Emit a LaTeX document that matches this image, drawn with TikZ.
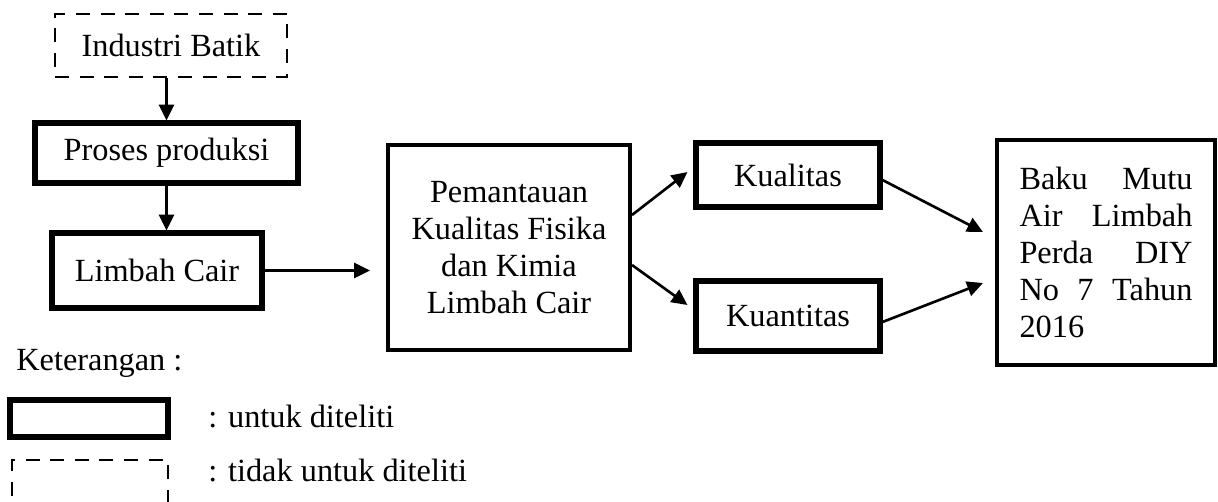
\documentclass[tikz,border=0pt]{standalone}
\usepackage{fontspec}
\setmainfont{Liberation Serif}
\usepackage{tikz}
\usetikzlibrary{arrows.meta, positioning, calc}
\tikzset{
    % Box styles with sharp corners
    component/.style={
        rectangle,
        draw=black,
        fill=white,
        line width=2.9pt,
        align=center,
        inner sep=0pt
    },
    component dashed/.style={
        component,
        line width=1.5pt,
        dash pattern=on 8pt off 6pt
    },
    component thin/.style={
        component,
        line width=2.3pt
    },
    arrow style/.style={
        -{Triangle[length=9pt, width=8.5pt]},
        line width=1.5pt,
        black
    }
}

\begin{document}
\begin{tikzpicture}[x=0.02cm, y=-0.02cm, font=\fontsize{18.4}{21}\selectfont]
        \clip (0,0) rectangle (1218,501);

        % Left column
        \node[component dashed, minimum width=4.64cm, minimum height=1.26cm] (ind) at (171, 45.5) {Industri Batik};
        \node[component, minimum width=5.26cm, minimum height=1.2cm] (proses) at (166.5, 153) {Proses produksi};
        \node[component, minimum width=4.2cm, minimum height=1.5cm] (limbah) at (157, 270.5) {Limbah Cair};

        % Monitoring
        \node[component thin, minimum width=4.84cm, minimum height=4.1cm] (pantau) at (509, 247.5) {
            Pemantauan\\
            Kualitas Fisika\\
            dan Kimia\\
            Limbah Cair
        };

        \node[component, minimum width=3.68cm, minimum height=1.28cm] (kual) at (788, 175) {Kualitas};
        \node[component, minimum width=3.68cm, minimum height=1.4cm] (kuan) at (788, 316) {Kuantitas};

        % Standard
        \node[component thin, minimum width=4.36cm, minimum height=4.5cm, text width=3.46cm, align=justify, inner xsep=0.45cm] (baku) at (1106, 252.5) {\tolerance=10000\hyphenpenalty=10000
            Baku Mutu Air Limbah Perda DIY No 7 Tahun 2016\par
        };

        % Arrows
        \draw[arrow style] (proses.north |- ind.south) -- (proses.north);
        \draw[arrow style] (proses.south) -- (proses.south |- limbah.north);
        \draw[arrow style, shorten >=0.32cm] (limbah.east) -- (limbah.east -| pantau.west);
        \draw[arrow style] ([yshift=0.65cm]pantau.east) -- ([xshift=-0.12cm, yshift=0.06cm]kual.west);
        \draw[arrow style] ([yshift=-0.35cm]pantau.east) -- ([xshift=-0.12cm, yshift=0.22cm]kuan.west);
        \draw[arrow style] ([yshift=-0.1cm]kual.east) -- ([xshift=-0.24cm, yshift=0.41cm]baku.west);
        \draw[arrow style] ([yshift=-0.12cm]kuan.east) -- ([xshift=-0.24cm, yshift=-0.61cm]baku.west);

        % Legend below
        \node[anchor=base west, inner sep=0pt] (ket) at (16, 370) {Keterangan :};
        \node[component, minimum width=3.16cm, minimum height=0.74cm] (leg1) at (89, 418.5) {};
        \node[anchor=base west, inner sep=0pt] (leg1txt) at (208, 427) {: untuk diteliti};
        \node[component dashed, minimum width=3.12cm, minimum height=1.2cm] (leg2) at (90, 490) {};
        \node[anchor=base west, inner sep=0pt] (leg2txt) at (208, 481) {: tidak untuk diteliti};
    \end{tikzpicture}
\end{document}
